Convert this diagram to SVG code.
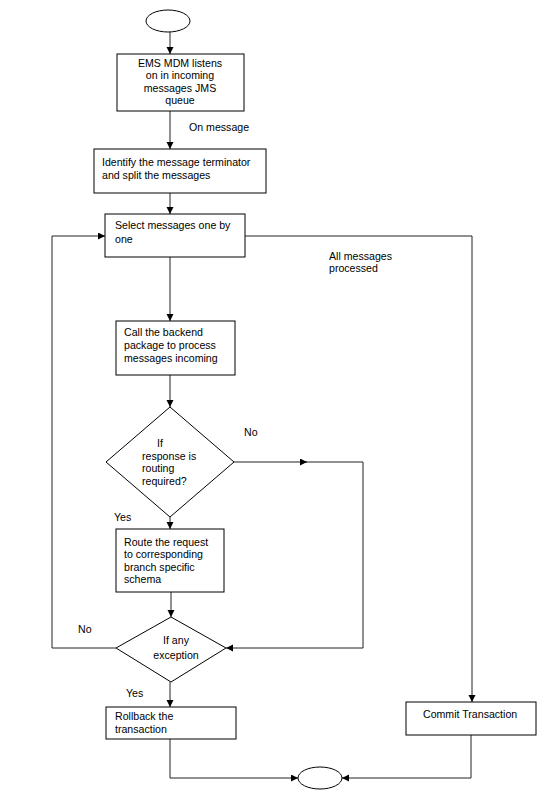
<svg xmlns="http://www.w3.org/2000/svg" width="550" height="810" viewBox="0 0 550 810">
<style>
.s{fill:#fff;stroke:#000;stroke-width:1}
.c{fill:none;stroke:#222;stroke-width:1}
text{font-family:"Liberation Sans",Arial,sans-serif;font-size:10.6px;fill:#000}
.m{text-anchor:middle}
</style>
<defs>
<marker id="a" markerUnits="userSpaceOnUse" markerWidth="8" markerHeight="8" refX="7" refY="3.5" orient="auto">
<path d="M0,0 L7,3.5 L0,7 z" fill="#000"/>
</marker>
</defs>
<rect width="550" height="810" fill="#fff"/>
<g id="connectors">
<path class="c" d="M170,32 V54" marker-end="url(#a)"/>
<path class="c" d="M170,111 V149" marker-end="url(#a)"/>
<path class="c" d="M170,193 V214" marker-end="url(#a)"/>
<path class="c" d="M170,257 V321" marker-end="url(#a)"/>
<path class="c" d="M170,375 V407" marker-end="url(#a)"/>
<path class="c" d="M170,517 V529" marker-end="url(#a)"/>
<path class="c" d="M171,592 V617" marker-end="url(#a)"/>
<path class="c" d="M170,682 V707" marker-end="url(#a)"/>
<path class="c" d="M170,739 V778 H298" marker-end="url(#a)"/>
<path class="c" d="M471,735 V778 H342" marker-end="url(#a)"/>
<path class="c" d="M245,236 H472 V702" marker-end="url(#a)"/>
<path class="c" d="M234,462 H307" marker-end="url(#a)"/>
<path class="c" d="M306,462 H363 V648 H226" marker-end="url(#a)"/>
<path class="c" d="M116,648 H52 V236 H105" marker-end="url(#a)"/>
<text x="189" y="131">On message</text>
<text x="329" y="260">All messages</text>
<text x="329" y="272">processed</text>
<text x="244" y="436">No</text>
<text x="114" y="521">Yes</text>
<text x="78" y="633">No</text>
<text x="126" y="697">Yes</text>
</g>
<g id="start"><ellipse class="s" cx="168" cy="21" rx="22" ry="11"/></g>
<g id="listen">
<rect class="s" x="117" y="54" width="127" height="57"/>
<text class="m" x="180" y="66.5">EMS MDM listens</text>
<text class="m" x="180" y="79">on in incoming</text>
<text class="m" x="180" y="91.5">messages JMS</text>
<text class="m" x="180" y="104">queue</text>
</g>
<g id="identify">
<rect class="s" x="94" y="149" width="172" height="44"/>
<text x="102" y="166">Identify the message terminator</text>
<text x="102" y="179">and split the messages</text>
</g>
<g id="select">
<rect class="s" x="105" y="214" width="140" height="43"/>
<text x="115" y="229">Select messages one by</text>
<text x="115" y="243">one</text>
</g>
<g id="backend">
<rect class="s" x="116" y="321" width="119" height="54"/>
<text x="124" y="336">Call the backend</text>
<text x="124" y="349">package to process</text>
<text x="124" y="362">messages incoming</text>
</g>
<g id="routing">
<polygon class="s" points="170,407 234,462 170,517 106,462"/>
<text x="157" y="447">If</text>
<text x="142" y="459.5">response is</text>
<text x="142" y="472">routing</text>
<text x="142" y="484.5">required?</text>
</g>
<g id="route">
<rect class="s" x="116" y="529" width="108" height="63"/>
<text x="124" y="545.5">Route the request</text>
<text x="124" y="558">to corresponding</text>
<text x="124" y="570.5">branch specific</text>
<text x="124" y="583">schema</text>
</g>
<g id="exception">
<polygon class="s" points="171,617 226,648 171,682 116,648"/>
<text class="m" x="176" y="644">If any</text>
<text class="m" x="176" y="659">exception</text>
</g>
<g id="rollback">
<rect class="s" x="106" y="707" width="130" height="32"/>
<text x="115" y="720">Rollback the</text>
<text x="115" y="732.5">transaction</text>
</g>
<g id="commit">
<rect class="s" x="406" y="702" width="130" height="33"/>
<text x="423" y="718">Commit Transaction</text>
</g>
<g id="end"><ellipse class="s" cx="320" cy="778" rx="22" ry="11"/></g>
</svg>
